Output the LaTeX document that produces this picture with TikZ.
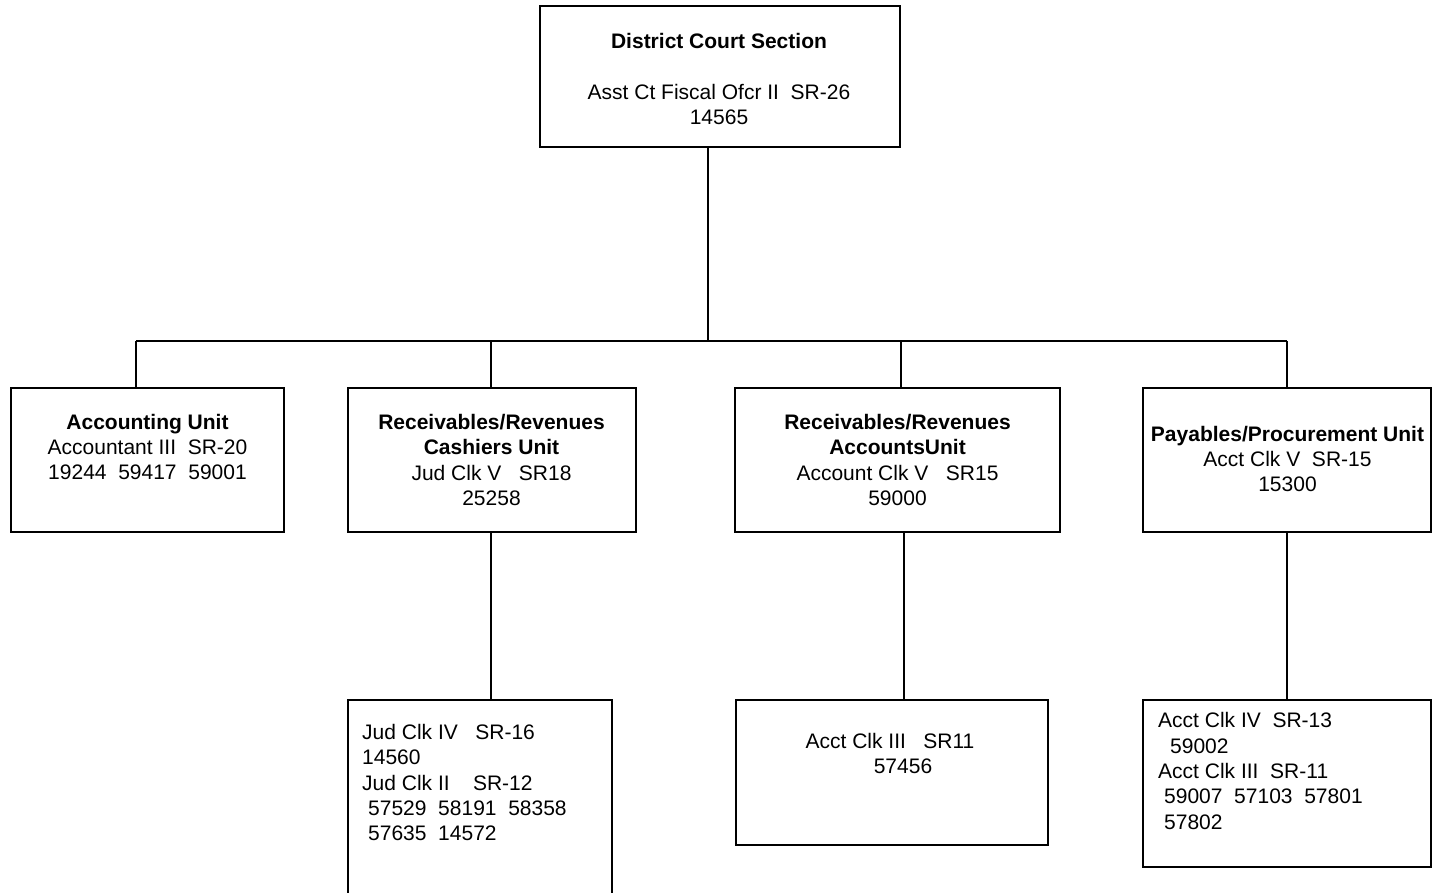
\documentclass[tikz,border=0pt]{standalone}
\usepackage{fontspec}
\setmainfont{Liberation Sans}
\begin{document}
\begin{tikzpicture}[x=1pt,y=-1pt,
  box/.style={draw, line width=1.5pt, inner sep=0pt, rectangle},
  wire/.style={line width=1.5pt},
  txt/.style={inner sep=0pt, font=\fontsize{21}{25.3}\selectfont},
  ]
\clip (0,0) rectangle (1433,892);

% boxes
\node[box, minimum width=360pt, minimum height=141pt] (top) at (720,76.5) {};
\node[box, minimum width=273pt, minimum height=144pt] (u1) at (147.5,460) {};
\node[box, minimum width=288pt, minimum height=144pt] (u2) at (492,460) {};
\node[box, minimum width=325pt, minimum height=144pt] (u3) at (897.5,460) {};
\node[box, minimum width=288pt, minimum height=144pt] (u4) at (1287,460) {};
\node[box, minimum width=264pt, minimum height=200pt] (s2) at (480,800) {};
\node[box, minimum width=312pt, minimum height=145pt] (s3) at (892,772.5) {};
\node[box, minimum width=288pt, minimum height=167pt] (s4) at (1287,783.5) {};

% texts
\node[txt, align=center] (topT) at (719,79)
  {\textbf{District Court Section}\\[25.3pt]Asst Ct Fiscal Ofcr II\ \ SR-26\\14565};
\node[txt, align=center] (u1T) at (147.5,447)
  {\textbf{Accounting Unit}\\Accountant III\ \ SR-20\\19244\ \ 59417\ \ 59001};
\node[txt, align=center] (u2T) at (491.5,460)
  {\textbf{Receivables/Revenues}\\\textbf{Cashiers Unit}\\Jud Clk V\ \ \ SR18\\25258};
\node[txt, align=center] (u3T) at (897.5,460)
  {\textbf{Receivables/Revenues}\\\textbf{AccountsUnit}\\Account Clk V\ \ \ SR15\\59000};
\node[txt, align=center] (u4T) at (1287.5,459)
  {\textbf{Payables/Procurement Unit}\\Acct Clk V\ \ SR-15\\15300};
\node[txt, align=left, anchor=west] (s2T) at (362,782.5)
  {Jud Clk IV\ \ \ SR-16\\14560\\Jud Clk II\ \ \ \ SR-12\\\hspace*{6pt}57529\ \ 58191\ \ 58358\\\hspace*{6pt}57635\ \ 14572};
\node[txt, align=center] (s3T) at (903,753.5)
  {Acct Clk III\ \ \ SR11\hspace*{26pt}\\57456};
\node[txt, align=left, anchor=west] (s4T) at (1158,771)
  {Acct Clk IV\ \ SR-13\\\hspace*{12pt}59002\\Acct Clk III\ \ SR-11\\\hspace*{6pt}59007\ \ 57103\ \ 57801\\\hspace*{6pt}57802};

% connectors
\coordinate (hub) at (708,341);
\coordinate (d1) at (136,341);
\coordinate (d2) at (491,341);
\coordinate (d3) at (901,341);
\coordinate (d4) at (1287,341);
\draw[wire] (hub |- top.south) -- (hub);
\draw[wire] (d1) -- (d4);
\draw[wire] (d1) -- (d1 |- u1.north);
\draw[wire] (d2) -- (d2 |- u2.north);
\draw[wire] (d3) -- (d3 |- u3.north);
\draw[wire] (d4) -- (d4 |- u4.north);

\coordinate (e2) at (491,620);
\coordinate (e3) at (904,620);
\coordinate (e4) at (1287,620);
\draw[wire] (e2 |- u2.south) -- (e2 |- s2.north);
\draw[wire] (e3 |- u3.south) -- (e3 |- s3.north);
\draw[wire] (e4 |- u4.south) -- (e4 |- s4.north);
\end{tikzpicture}
\end{document}
